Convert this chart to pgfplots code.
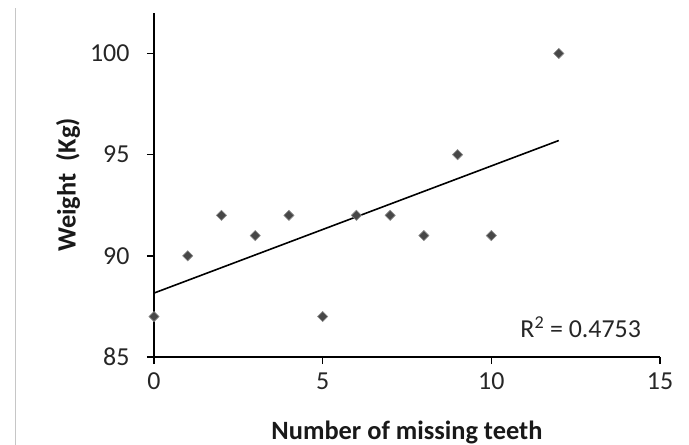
\documentclass[border=0pt]{standalone}
\usepackage{pgfplots}
\pgfplotsset{compat=1.18}
\usepackage{pgfplotstable}
\usepackage{fontspec}
\setmainfont{Carlito}
\pgfplotstableread{
x y
0 87
1 90
2 92
3 91
4 92
5 87
6 92
7 92
8 91
9 95
10 91
12 100
}\datatable
\begin{document}
\begin{tikzpicture}
\path[use as bounding box] (-154bp,-88bp) rectangle (535bp,357bp);
\draw[gray!45, line width=0.8bp] (-139bp,-88bp) -- (-139bp,349bp);
\begin{axis}[
  at={(0,0)}, anchor=south west,
  scale only axis, width=506bp, height=344bp,
  xmin=0, xmax=15, ymin=85, ymax=102,
  xtick={0,5,10,15}, ytick={85,90,95,100},
  axis x line*=bottom, axis y line*=left,
  axis line style={line width=1.4bp, -},
  tick style={line width=1.4bp, black},
  tick align=outside, major tick length=7bp,
  /pgf/number format/assume math mode=true,
  ticklabel style={font=\fontsize{26}{30}\selectfont, color=black!85},
  xticklabel style={yshift=-5bp},
  yticklabel style={xshift=-14bp},
  xlabel={\textbf{Number of missing teeth}},
  ylabel={\textbf{Weight\ \ (Kg)}},
  label style={font=\fontsize{26.5}{30}\selectfont, color=black!90},
  xlabel style={at={(axis description cs:0.5,-0.218)}, anchor=center},
  ylabel style={at={(axis description cs:-0.170,0.5)}, anchor=center},
  clip=false,
]
\addplot[only marks, mark=square*, mark size=3.6bp, mark options={rotate=45, fill=black!72, draw=black!45, line width=0.6bp}] table[x=x,y=y] {\datatable};
\addplot[black, line width=1.6bp, no marks] table[x=x, y={create col/linear regression={y=y}}] {\datatable};
\node[font=\fontsize{26}{30}\selectfont, color=black!85] at (axis cs:12.65,86.48) {R\textsuperscript{2} = 0.4753};
\end{axis}
\end{tikzpicture}
\end{document}
